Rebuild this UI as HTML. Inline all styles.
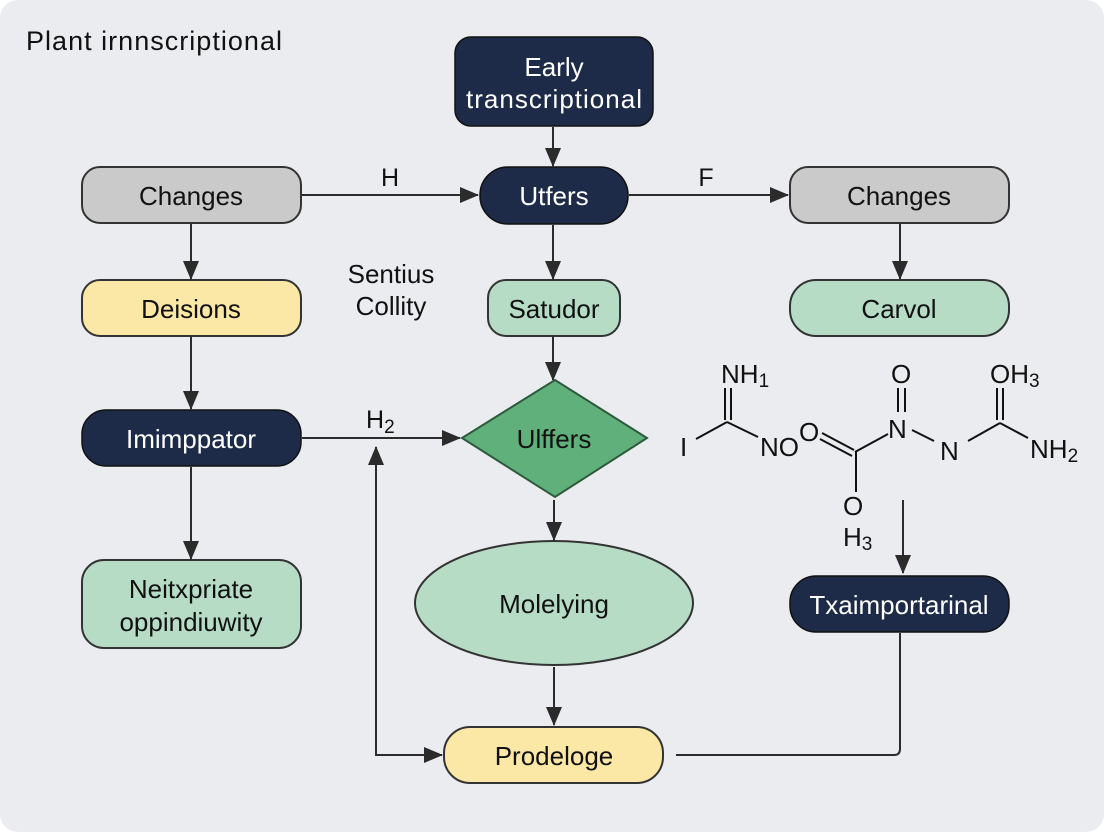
<!DOCTYPE html>
<html><head><style>
html,body{margin:0;padding:0;background:#fff;}
svg{display:block;}
text{font-family:"Liberation Sans",sans-serif;}
</style></head><body>
<svg width="1104" height="832" viewBox="0 0 1104 832" xmlns="http://www.w3.org/2000/svg">
<defs>
<marker id="b" markerWidth="22" markerHeight="22" refX="19" refY="11" orient="auto" markerUnits="userSpaceOnUse">
<path d="M1,3 L20,11 L1,19 z" fill="#2b2b2b"/>
</marker>
</defs>
<rect x="0" y="0" width="1104" height="832" rx="18" fill="#ebecf0"/>
<text x="26" y="50" font-size="27" fill="#111" textLength="256">Plant irnnscriptional</text>

<g stroke="#2b2b2b" stroke-width="2" fill="none">
<line x1="553" y1="127" x2="553" y2="166" marker-end="url(#b)"/>
<line x1="302" y1="195" x2="478" y2="195" marker-end="url(#b)"/>
<line x1="629" y1="195" x2="788" y2="195" marker-end="url(#b)"/>
<line x1="191" y1="224" x2="191" y2="279" marker-end="url(#b)"/>
<line x1="553" y1="225" x2="553" y2="279" marker-end="url(#b)"/>
<line x1="900" y1="224" x2="900" y2="279" marker-end="url(#b)"/>
<line x1="191" y1="337" x2="191" y2="409" marker-end="url(#b)"/>
<line x1="553" y1="337" x2="553" y2="380" marker-end="url(#b)"/>
<line x1="302" y1="438" x2="460" y2="438" marker-end="url(#b)"/>
<line x1="191" y1="467" x2="191" y2="559" marker-end="url(#b)"/>
<line x1="554" y1="500" x2="554" y2="540" marker-end="url(#b)"/>
<line x1="554" y1="667" x2="554" y2="725" marker-end="url(#b)"/>
<line x1="903" y1="500" x2="903" y2="573" marker-end="url(#b)"/>
<path d="M376,755 L376,447" marker-end="url(#b)"/>
<line x1="375" y1="755" x2="442" y2="755" marker-end="url(#b)"/>
<path d="M676,755 L894,755 Q900,755 900,749 L900,633"/>
</g>

<text x="390" y="186" font-size="25" text-anchor="middle" fill="#111">H</text>
<text x="706" y="186" font-size="25" text-anchor="middle" fill="#111">F</text>
<text x="366" y="428" font-size="25" fill="#111">H<tspan font-size="19" dy="5">2</tspan></text>
<text x="391" y="283" font-size="26" text-anchor="middle" fill="#111">Sentius</text>
<text x="391" y="315" font-size="26" text-anchor="middle" fill="#111">Collity</text>

<rect x="455" y="37" width="198" height="89" rx="16" fill="#1d2b49" stroke="#111" stroke-width="1.5"/>
<text x="554" y="76" font-size="26" fill="#fff" text-anchor="middle">Early</text>
<text x="554" y="108" font-size="26" fill="#fff" text-anchor="middle" textLength="176">transcriptional</text>

<rect x="480" y="167" width="148" height="57" rx="28" fill="#1d2b49" stroke="#111" stroke-width="1.5"/>
<text x="554" y="205" font-size="26" fill="#fff" text-anchor="middle">Utfers</text>

<rect x="82" y="167" width="219" height="56" rx="18" fill="#cacaca" stroke="#333" stroke-width="2"/>
<text x="191" y="205" font-size="26" fill="#111" text-anchor="middle">Changes</text>
<rect x="790" y="167" width="219" height="56" rx="18" fill="#cacaca" stroke="#333" stroke-width="2"/>
<text x="899" y="205" font-size="26" fill="#111" text-anchor="middle">Changes</text>

<rect x="82" y="280" width="219" height="56" rx="18" fill="#fbe8a6" stroke="#333" stroke-width="2"/>
<text x="191" y="318" font-size="26" fill="#111" text-anchor="middle">Deisions</text>
<rect x="488" y="280" width="132" height="56" rx="18" fill="#b6dcc6" stroke="#333" stroke-width="2"/>
<text x="554" y="318" font-size="26" fill="#111" text-anchor="middle">Satudor</text>
<rect x="790" y="280" width="219" height="56" rx="26" fill="#b6dcc6" stroke="#333" stroke-width="2"/>
<text x="899" y="318" font-size="26" fill="#111" text-anchor="middle">Carvol</text>

<rect x="82" y="410" width="219" height="56" rx="24" fill="#1d2b49" stroke="#111" stroke-width="1.5"/>
<text x="191" y="448" font-size="26" fill="#fff" text-anchor="middle">Imimppator</text>

<polygon points="555,380 647,438 555,497 462,438" fill="#5fb07a" stroke="#2d5a3c" stroke-width="2"/>
<text x="554" y="448" font-size="26" fill="#111" text-anchor="middle">Ulffers</text>

<rect x="82" y="560" width="219" height="88" rx="22" fill="#b6dcc6" stroke="#333" stroke-width="2"/>
<text x="191" y="598" font-size="26" fill="#111" text-anchor="middle">Neitxpriate</text>
<text x="191" y="631" font-size="26" fill="#111" text-anchor="middle">oppindiuwity</text>

<ellipse cx="554" cy="603" rx="139" ry="62" fill="#b6dcc6" stroke="#333" stroke-width="2"/>
<text x="554" y="613" font-size="26" fill="#111" text-anchor="middle">Molelying</text>

<rect x="790" y="576" width="219" height="56" rx="26" fill="#1d2b49" stroke="#111" stroke-width="1.5"/>
<text x="899" y="614" font-size="26" fill="#fff" text-anchor="middle">Txaimportarinal</text>

<rect x="444" y="727" width="219" height="56" rx="26" fill="#fbe8a6" stroke="#333" stroke-width="2"/>
<text x="554" y="765" font-size="26" fill="#111" text-anchor="middle">Prodeloge</text>

<g stroke="#111" stroke-width="2" fill="none">
<line x1="696" y1="439" x2="727" y2="422"/>
<line x1="727" y1="422" x2="758" y2="437"/>
<line x1="725" y1="388" x2="725" y2="420"/>
<line x1="731" y1="388" x2="731" y2="420"/>
<line x1="822" y1="433" x2="854" y2="450"/>
<line x1="820" y1="439" x2="852" y2="456"/>
<line x1="855" y1="452" x2="888" y2="434"/>
<line x1="856" y1="452" x2="856" y2="492"/>
<line x1="898" y1="388" x2="898" y2="412"/>
<line x1="905" y1="388" x2="905" y2="412"/>
<line x1="912" y1="430" x2="934" y2="441"/>
<line x1="968" y1="441" x2="1000" y2="423"/>
<line x1="1000" y1="423" x2="1028" y2="438"/>
<line x1="997" y1="388" x2="997" y2="420"/>
<line x1="1003" y1="388" x2="1003" y2="420"/>
</g>
<g font-size="26" fill="#111">
<text x="721" y="383">NH<tspan font-size="19" dy="4">1</tspan></text>
<text x="680" y="456">I</text>
<text x="760" y="456">NO</text>
<text x="799" y="441">O</text>
<text x="891" y="383">O</text>
<text x="888" y="438">N</text>
<text x="940" y="460">N</text>
<text x="990" y="383">OH<tspan font-size="19" dy="4">3</tspan></text>
<text x="1030" y="458">NH<tspan font-size="19" dy="4">2</tspan></text>
<text x="843" y="515">O</text>
<text x="843" y="546">H<tspan font-size="19" dy="4">3</tspan></text>
</g>
</svg>
</body></html>
